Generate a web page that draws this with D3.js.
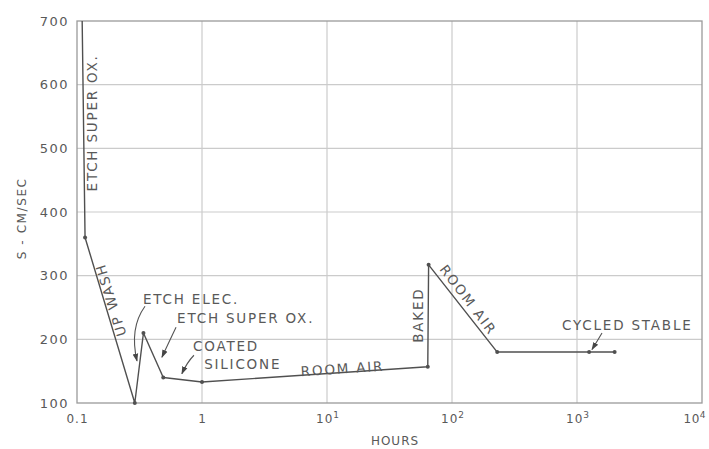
<!DOCTYPE html>
<html><head><meta charset="utf-8">
<script src="https://cdn.jsdelivr.net/npm/d3@7"></script>
<style>
html,body{margin:0;padding:0;background:#fff;}
svg{display:block;font-family:"DejaVu Sans",sans-serif;}
</style></head>
<body>
<svg id="chart" width="709" height="449"></svg>
<script>
// ---- data ----
const hours  = [0.11, 0.116, 0.29, 0.34, 0.49, 1.0, 64, 65, 230, 1250, 2000];
const speed  = [700,  360,   100,  210,  140,  133, 157, 317, 180, 180,  180];
const yTicks = [100, 200, 300, 400, 500, 600, 700];
const xTicks = [0.1, 1, 10, 100, 1000, 10000];
const xTickLabels = [["0.1",""],["1",""],["10","1"],["10","2"],["10","3"],["10","4"]];

// annotations in data units
const plainLabels = [
  {text:"ETCH ELEC.",     x:0.337, y:255},
  {text:"ETCH SUPER OX.", x:0.632, y:226},
  {text:"COATED",         x:0.847, y:182},
  {text:"SILICONE",       x:1.04,  y:153},
  {text:"CYCLED STABLE",  x:758,   y:215}
];
const rotLabels = [
  {text:"ETCH SUPER OX.", x:0.132, y:540, a:-90},
  {text:"UP WASH",        x:0.186, y:262, a:-107},
  {text:"ROOM AIR",       x:13.3,  y:154, a:-3.8},
  {text:"BAKED",          x:53.5,  y:238, a:-90},
  {text:"ROOM AIR",       x:135,   y:262, a:52.7}
];
const arrows = [
  {s:[0.35,252],  c:[0.262,218], e:[0.302,166]},
  {s:[0.62,219],  c:[0.554,199], e:[0.478,172]},
  {s:[0.862,175], c:[0.76,164],  e:[0.69,146]},
  {s:[1585,210],  c:[1469,199],  e:[1318,184]}
];

// ---- chart ----
const svg = d3.select("#chart");
const x = d3.scaleLog().domain([0.1, 1e4]).range([77, 702]);
const y = d3.scaleLinear().domain([100, 700]).range([403, 21]);
const ink = "#595959";

// grid
svg.append("g").selectAll("line").data(yTicks.slice(1,-1)).join("line")
  .attr("x1", x(0.1)).attr("x2", x(1e4)).attr("y1", d=>y(d)).attr("y2", d=>y(d))
  .attr("stroke", "#cbcbcb").attr("stroke-width", 1.2);
svg.append("g").selectAll("line").data(xTicks.slice(1,-1)).join("line")
  .attr("y1", y(100)).attr("y2", y(700)).attr("x1", d=>x(d)).attr("x2", d=>x(d))
  .attr("stroke", "#cbcbcb").attr("stroke-width", 1.2);
// frame
svg.append("rect").attr("x", x(0.1)).attr("y", y(700))
  .attr("width", x(1e4)-x(0.1)).attr("height", y(100)-y(700))
  .attr("fill", "none").attr("stroke", "#9a9a9a").attr("stroke-width", 1.3);

// axes
const yAxis = svg.append("g").attr("transform", `translate(${x(0.1)},0)`)
  .call(d3.axisLeft(y).tickValues(yTicks).tickSize(0).tickPadding(8));
yAxis.select(".domain").remove();
yAxis.selectAll("text").attr("fill", ink).attr("font-size", 13)
  .attr("letter-spacing", 1.5).attr("font-family", "DejaVu Sans");

const xAxis = svg.append("g").attr("transform", `translate(0,${y(100)})`)
  .call(d3.axisBottom(x).tickValues(xTicks).tickSize(0).tickPadding(11).tickFormat(""));
xAxis.select(".domain").remove();
xAxis.selectAll(".tick text").each(function(d, i) {
  const last = i === xTicks.length - 1;
  const t = d3.select(this).attr("fill", ink).attr("font-size", 12)
    .attr("font-family", "DejaVu Sans").attr("letter-spacing", last ? 0.5 : 1);
  t.text(null);
  if (last) t.attr("text-anchor", "start").attr("x", -19);
  t.append("tspan").text(xTickLabels[i][0]);
  if (xTickLabels[i][1]) t.append("tspan").attr("dy", "-0.5em").attr("font-size", 9)
    .attr("letter-spacing", 0).text(xTickLabels[i][1]);
});

svg.append("text").attr("x", x(35)).attr("y", 445)
  .attr("text-anchor", "middle").attr("fill", ink).attr("font-size", 12)
  .attr("letter-spacing", 1).text("HOURS");
svg.append("text").attr("transform", `translate(26,${y(390)}) rotate(-90)`)
  .attr("text-anchor", "middle").attr("fill", ink).attr("font-size", 12)
  .attr("letter-spacing", 1.6).text("S - CM/SEC");

// data line
const pts = hours.map((h, i) => [h, speed[i]]);
svg.append("path").datum(pts)
  .attr("d", d3.line().x(d=>x(d[0])).y(d=>y(d[1])))
  .attr("fill", "none").attr("stroke", "#505050").attr("stroke-width", 1.4)
  .attr("stroke-linejoin", "round");
svg.append("g").selectAll("circle").data(pts.slice(1)).join("circle")
  .attr("cx", d=>x(d[0])).attr("cy", d=>y(d[1])).attr("r", 2).attr("fill", "#505050");

// labels
svg.append("g").selectAll("text").data(plainLabels).join("text")
  .attr("x", d=>x(d.x)).attr("y", d=>y(d.y)).text(d=>d.text)
  .attr("fill", ink).attr("font-size", 13.5).attr("letter-spacing", 1.8);
svg.append("g").selectAll("text").data(rotLabels).join("text")
  .attr("transform", d=>`translate(${x(d.x)},${y(d.y)}) rotate(${d.a})`)
  .attr("text-anchor", "middle").attr("dy", "0.36em").text(d=>d.text)
  .attr("fill", ink).attr("font-size", 13.5).attr("letter-spacing", 1.8);

// arrows
svg.append("defs").append("marker").attr("id", "ah")
  .attr("viewBox", "0 0 10 10").attr("refX", 9).attr("refY", 5)
  .attr("markerWidth", 8).attr("markerHeight", 8).attr("orient", "auto-start-reverse")
  .attr("markerUnits", "userSpaceOnUse")
  .append("path").attr("d", "M0,1.5 L10,5 L0,8.5 Z").attr("fill", "#454545");
svg.append("g").selectAll("path").data(arrows).join("path")
  .attr("d", d=>`M${x(d.s[0])},${y(d.s[1])} Q${x(d.c[0])},${y(d.c[1])} ${x(d.e[0])},${y(d.e[1])}`)
  .attr("fill", "none").attr("stroke", "#555").attr("stroke-width", 1.1)
  .attr("marker-end", "url(#ah)");
</script>
</body></html>
